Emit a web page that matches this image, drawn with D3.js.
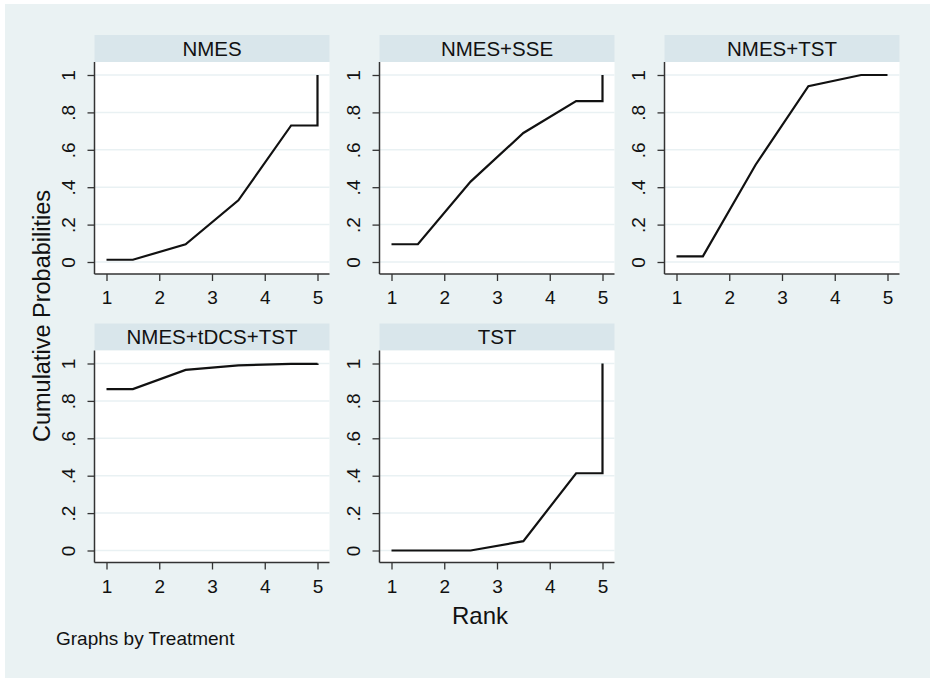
<!DOCTYPE html>
<html lang="en">
<head>
    <meta charset="UTF-8">
    <title>Cumulative Probabilities by Treatment</title>
    <script src="https://d3js.org/d3.v7.min.js"></script>
    <style>
        body { margin: 0; background: #fff; }
        text { font-family: "Liberation Sans", Arial, sans-serif; fill: #111; }
        .grid line { stroke: #e9f1f3; stroke-width: 1.5px; }
        .tick line { stroke: #333; stroke-width: 1.3px; }
        .curve { fill: none; stroke: #111; stroke-width: 2.2px; stroke-linejoin: miter; }
    </style>
</head>
<body>
    <div id="chart"></div>

    <script>
        // cumulative probability of each rank (1..5)
        var treatments = ["NMES", "NMES+SSE", "NMES+TST", "NMES+tDCS+TST", "TST"];
        var cumNMES = [0.012, 0.095, 0.33, 0.73, 1];
        var cumNMES_SSE = [0.095, 0.43, 0.69, 0.86, 1];
        var cumNMES_TST = [0.03, 0.52, 0.94, 1.0, 1];
        var cumNMES_tDCS_TST = [0.863, 0.966, 0.99, 0.998, 1];
        var cumTST = [0, 0, 0.05, 0.413, 1];
        var series = [cumNMES, cumNMES_SSE, cumNMES_TST, cumNMES_tDCS_TST, cumTST];

        var rankTicks = [1, 2, 3, 4, 5];
        var probTicks = [0, 0.2, 0.4, 0.6, 0.8, 1];
        var probLabels = ["0", ".2", ".4", ".6", ".8", "1"];

        var W = 935, H = 684;
        var colStep = 285, rowStep = 288.5;
        var panelW = 235, stripH = 27, plotH = 212;

        var svg = d3.select("#chart").append("svg")
            .attr("width", W)
            .attr("height", H);

        // outer background
        svg.append("rect")
            .attr("x", 5).attr("y", 4)
            .attr("width", 925).attr("height", 674)
            .attr("fill", "#eaf2f3");

        treatments.forEach(function(name, i) {
            var col = i % 3, row = Math.floor(i / 3);
            var left = 94.5 + col * colStep;
            var top = 35 + row * rowStep;
            var plotTop = top + stripH;
            var plotBottom = plotTop + plotH;

            var x = d3.scaleLinear().domain([1, 5]).range([left + 12, left + panelW - 12]);
            var y = d3.scaleLinear().domain([0, 1]).range([plotBottom - 12, plotTop + 13]);

            var g = svg.append("g");

            // strip title
            g.append("rect")
                .attr("x", left).attr("y", top)
                .attr("width", panelW).attr("height", stripH)
                .attr("fill", "#d9e6eb");
            g.append("text")
                .attr("x", left + panelW / 2)
                .attr("y", top + stripH / 2 + 7)
                .attr("text-anchor", "middle")
                .style("font-size", "20.5px")
                .text(name);

            // plot region
            g.append("rect")
                .attr("x", left).attr("y", plotTop)
                .attr("width", panelW).attr("height", plotH)
                .attr("fill", "#fff");

            g.append("g").attr("class", "grid")
                .selectAll("line")
                .data(probTicks)
                .join("line")
                .attr("x1", left).attr("x2", left + panelW)
                .attr("y1", function(d) { return y(d); })
                .attr("y2", function(d) { return y(d); });

            // line through rank midpoints, as Stata draws it
            var c = series[i];
            var pts = [[1, c[0]], [1.5, c[0]], [2.5, c[1]], [3.5, c[2]], [4.5, c[3]], [5, c[3]], [5, c[4]]];
            g.append("path")
                .attr("class", "curve")
                .attr("d", d3.line()
                    .x(function(d) { return x(d[0]); })
                    .y(function(d) { return y(d[1]); })(pts));

            // y axis
            var ya = g.append("g")
                .attr("transform", "translate(" + left + ",0)")
                .call(d3.axisLeft(y).tickValues(probTicks).tickSize(7).tickSizeOuter(0)
                    .tickFormat(function(d, k) { return probLabels[k]; }));
            ya.select(".domain").remove();
            ya.selectAll("text")
                .attr("transform", "rotate(-90)")
                .attr("x", 0).attr("y", -20).attr("dy", null)
                .attr("text-anchor", "middle")
                .style("font-size", "19px")
                .style("font-family", null);

            // x axis
            var xa = g.append("g")
                .attr("transform", "translate(0," + plotBottom + ")")
                .call(d3.axisBottom(x).tickValues(rankTicks).tickSize(7).tickSizeOuter(0)
                    .tickFormat(d3.format("d")));
            xa.select(".domain").remove();
            xa.selectAll("text")
                .attr("y", 30).attr("dy", null)
                .style("font-size", "19px")
                .style("font-family", null);

            // axis lines along the plot region edges
            g.append("line")
                .attr("x1", left).attr("x2", left)
                .attr("y1", plotTop).attr("y2", plotBottom)
                .attr("stroke", "#333").attr("stroke-width", 1.5);
            g.append("line")
                .attr("x1", left).attr("x2", left + panelW)
                .attr("y1", plotBottom).attr("y2", plotBottom)
                .attr("stroke", "#333").attr("stroke-width", 1.5);
        });

        svg.append("text")
            .attr("transform", "translate(50,316) rotate(-90)")
            .attr("text-anchor", "middle")
            .style("font-size", "23.5px")
            .text("Cumulative Probabilities");

        svg.append("text")
            .attr("x", 480).attr("y", 624)
            .attr("text-anchor", "middle")
            .style("font-size", "24px")
            .text("Rank");

        svg.append("text")
            .attr("x", 56).attr("y", 645)
            .style("font-size", "19px")
            .text("Graphs by Treatment");
    </script>
</body>
</html>
